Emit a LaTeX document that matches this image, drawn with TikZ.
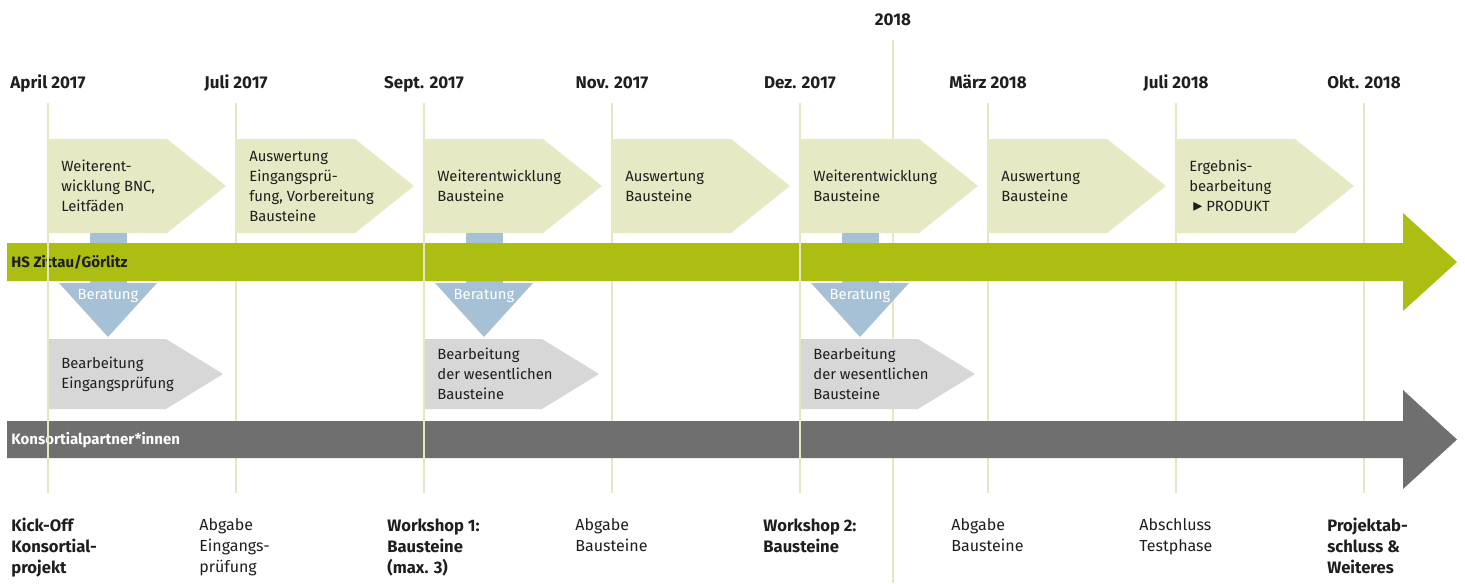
\documentclass[tikz,border=0pt]{standalone}
\usepackage{fontspec}
\setmainfont{Fira Sans}
\newfontfamily\symfont{DejaVu Sans}
\usetikzlibrary{calc}
\definecolor{bargreen}{RGB}{173,190,19}
\definecolor{chevgreen}{RGB}{230,233,196}
\definecolor{chevgray}{RGB}{215,215,215}
\definecolor{bargray}{RGB}{111,111,111}
\definecolor{beratblue}{RGB}{166,193,213}
\definecolor{linegreen}{RGB}{228,231,193}
\definecolor{darktext}{RGB}{30,30,30}

\begin{document}
\begin{tikzpicture}
  [x=0.5pt,y=-0.5pt,
   every node/.style={inner sep=0pt,font=\fontsize{7.4}{10}\selectfont},
   monthN/.style={font=\fontsize{8.5}{10}\selectfont\bfseries,anchor=base,text=darktext},
   phaseN/.style={align=left,anchor=west,text=darktext},
   mileN/.style={align=left,anchor=north west,text=darktext,font=\fontsize{8}{10.5}\selectfont},
   keyN/.style={mileN,font=\fontsize{8.3}{10.5}\selectfont\bfseries},
   barN/.style={anchor=west,font=\fontsize{7.5}{10}\selectfont\bfseries},
   tline/.style={draw=linegreen,line width=0.75pt}]

  \useasboundingbox (0,0) rectangle (1465,583);

  \draw[tline] (893,40) -- (893,583);
  \foreach \x in {236,612,988,1176,1364}
    \draw[tline] (\x,103) -- (\x,493);

  \foreach \x/\txt in {48/{Weiterent-\\wicklung BNC,\\Leitfäden},
                       236/{Auswertung\\Eingangsprü-\\fung, Vorbereitung\\Bausteine},
                       424/{Weiterentwicklung\\Bausteine},
                       612/{Auswertung\\Bausteine},
                       800/{Weiterentwicklung\\Bausteine},
                       988/{Auswertung\\Bausteine},
                       1176/{Ergebnis-\\bearbeitung\\\hspace{2pt}{\symfont\small ▸} PRODUKT}}
  {
    \fill[chevgreen] (\x,139) -- ++(119,0) -- ++(59,47) -- ++(-59,47) -- ++(-119,0) -- cycle;
    \node[phaseN] (p\x) at (\x+13,186) {\txt};
  }

  \foreach \x/\txt in {48/{Bearbeitung\\Eingangsprüfung},
                       424/{Bearbeitung\\der wesentlichen\\Bausteine},
                       800/{Bearbeitung\\der wesentlichen\\Bausteine}}
  {
    \fill[chevgray] (\x,339) -- ++(118,0) -- ++(57,35) -- ++(-57,35) -- ++(-118,0) -- cycle;
    \node[phaseN] (w\x) at (\x+13,374) {\txt};
    \fill[beratblue] (\x+42,233) rectangle (\x+79,290);
    \fill[beratblue] (\x+11,283) -- (\x+109,283) -- (\x+60,337) -- cycle;
    \node[text=white] (b\x) at (\x+60,296) {Beratung};
  }

  \fill[bargreen] (7,243) -- (1403,243) -- (1403,213) -- (1457,262)
    -- (1403,311) -- (1403,281) -- (7,281) -- cycle;
  \fill[bargray] (7,421) -- (1403,421) -- (1403,390) -- (1457,439.5)
    -- (1403,489) -- (1403,458) -- (7,458) -- cycle;
  \node[barN,text=darktext] (hs) at (11,262) {HS Zittau/Görlitz};
  \node[barN,text=white] (kp) at (11,440) {Konsortialpartner*innen};

  \foreach \x in {48,424,800}
    \draw[tline] (\x,103) -- (\x,493);

  \node[monthN] (y2018) at (893,26) {2018};
  \foreach \x/\m in {48/April 2017,236/Juli 2017,424/Sept. 2017,612/Nov. 2017,
                     800/Dez. 2017,988/März 2018,1176/Juli 2018,1364/Okt. 2018}
    \node[monthN] (m\x) at (\x,89) {\m};

  \foreach \x/\s/\txt in {48/keyN/{Kick-Off\\Konsortial-\\projekt},
                          236/mileN/{Abgabe\\Eingangs-\\prüfung},
                          424/keyN/{Workshop 1:\\Bausteine\\(max. 3)},
                          612/mileN/{Abgabe\\Bausteine},
                          800/keyN/{Workshop 2:\\Bausteine},
                          988/mileN/{Abgabe\\Bausteine},
                          1176/mileN/{Abschluss\\Testphase},
                          1364/keyN/{Projektab-\\schluss \&\\Weiteres}}
    \node[\s] (ms\x) at (\x-37,518) {\txt};
\end{tikzpicture}
\end{document}
